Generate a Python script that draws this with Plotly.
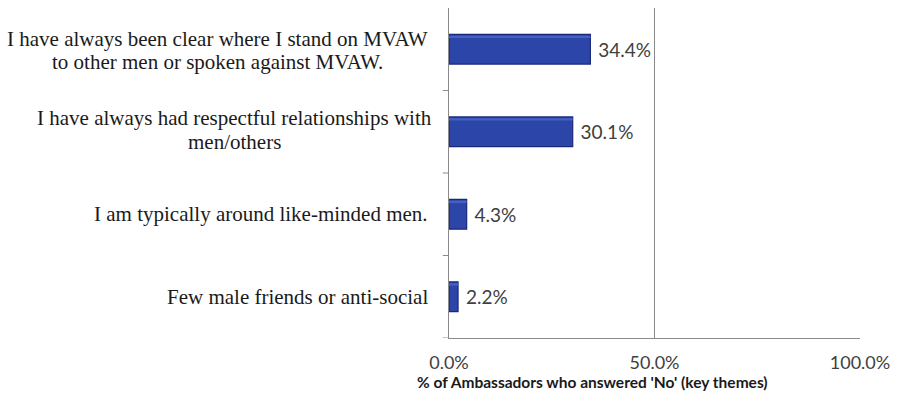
import plotly.graph_objects as go

# Survey themes (top to bottom), each split into its printed lines
theme_lines = [
    ["I have always been clear where I stand on MVAW", "to other men or spoken against MVAW."],
    ["I have always had respectful relationships with", "men/others"],
    ["I am typically around like-minded men."],
    ["Few male friends or anti-social"],
]
# share of ambassadors answering 'No' for each theme (%)
shares = [34.4, 30.1, 4.3, 2.2]
x_ticks = [0, 50, 100]
x_tick_text = ["0.0%", "50.0%", "100.0%"]
axis_title = "% of Ambassadors who answered 'No' (key themes)"

keys = list(range(len(shares)))

# plot-area pixel frame, used to place the free-standing text
PX_L, PX_R = 449, 860
PLOT_W = PX_R - PX_L


def paper_x(px):
    return (px - PX_L) / PLOT_W


fig = go.Figure()

# main bar body with a dark navy edge
fig.add_trace(go.Bar(
    y=keys, x=shares, orientation="h", width=0.36,
    marker=dict(color="#2B45A8", line=dict(color="#1A2878", width=1.2)),
    text=[f" {v:.1f}%" for v in shares], textposition="outside",
    textfont=dict(family="Lato, Open Sans, sans-serif", size=19, color="#404040"),
    cliponaxis=False, hoverinfo="skip",
))
# thin lighter bevel along the top edge of each bar
fig.add_trace(go.Bar(
    y=keys, x=shares, orientation="h", width=0.03, offset=-0.165,
    marker=dict(color="#4560C2", line=dict(width=0)),
    hoverinfo="skip",
))

serif = dict(family="Liberation Serif, Times New Roman, serif", size=21, color="#1a1a1a")
# centre x (px) for the two-line labels, right edge for single-line ones
block_centres = [217, 234, None, None]
LINE_GAP = 23.5
for k, lines, cx in zip(keys, theme_lines, block_centres):
    if len(lines) == 1:
        fig.add_annotation(
            x=paper_x(430), xref="paper", xanchor="right",
            y=k, yref="y", yanchor="middle",
            text=lines[0], showarrow=False, font=serif,
        )
    else:
        for i, line in enumerate(lines):
            fig.add_annotation(
                x=paper_x(cx), xref="paper", xanchor="center",
                y=k, yref="y", yanchor="middle",
                yshift=LINE_GAP * (0.5 - i) + (-1 if k == 0 else 2),
                text=line, showarrow=False, font=serif,
            )

fig.add_annotation(
    x=paper_x(592), xref="paper", xanchor="center",
    y=(338 - 382) / 330, yref="paper", yanchor="middle",
    text=f"<b>{axis_title}</b>", showarrow=False,
    font=dict(family="Lato, Open Sans, sans-serif", size=15.5, color="#1a1a1a"),
)

fig.update_layout(
    width=900, height=408,
    margin=dict(l=PX_L, r=900 - PX_R, t=8, b=70),
    paper_bgcolor="white", plot_bgcolor="white",
    showlegend=False, barmode="overlay",
    xaxis=dict(
        range=[0, 100], tickvals=x_ticks, ticktext=x_tick_text,
        showgrid=True, gridcolor="#8a8a8a", gridwidth=1,
        zeroline=False, showline=True, linecolor="#8a8a8a", linewidth=1,
        ticks="", ticklabelstandoff=8,
        tickfont=dict(family="Lato, Open Sans, sans-serif", size=18, color="#404040"),
    ),
    yaxis=dict(
        range=[3.5, -0.5], tickvals=[], showgrid=False,
        zeroline=False, showline=True, linecolor="#8a8a8a", linewidth=1,
    ),
)

# short tick marks at the category boundaries on the value axis
for b in [0.5, 1.5, 2.5, 3.5]:
    fig.add_shape(type="line", xref="paper", yref="y", x0=-0.015, x1=0, y0=b, y1=b,
                  line=dict(color="#8a8a8a", width=1))

fig.write_html("out.html")
